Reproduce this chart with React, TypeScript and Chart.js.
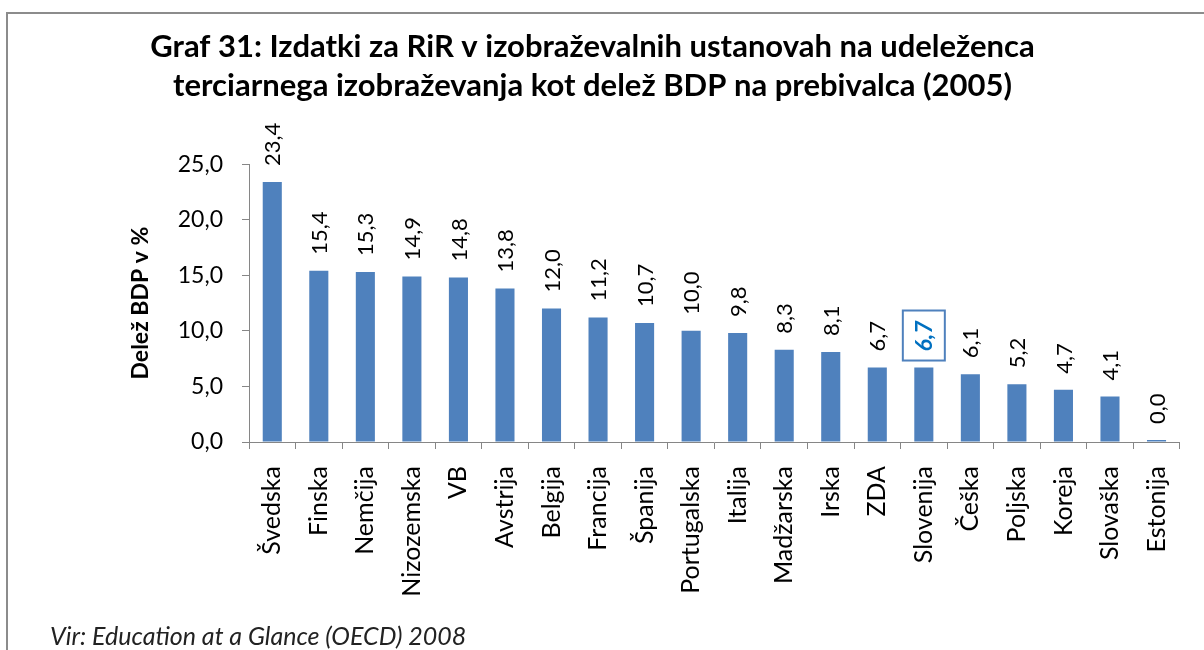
import React, { useEffect, useRef } from "react";
import { Chart, registerables } from "chart.js";

Chart.register(...registerables);

const categories = [
  "Švedska", "Finska", "Nemčija", "Nizozemska", "VB", "Avstrija", "Belgija",
  "Francija", "Španija", "Portugalska", "Italija", "Madžarska", "Irska", "ZDA",
  "Slovenija", "Češka", "Poljska", "Koreja", "Slovaška", "Estonija",
];
const values = [
  23.4, 15.4, 15.3, 14.9, 14.8, 13.8, 12.0, 11.2, 10.7, 10.0, 9.8, 8.3, 8.1,
  6.7, 6.7, 6.1, 5.2, 4.7, 4.1, 0.0,
];
const highlighted = "Slovenija";
const yTicks = [0, 5, 10, 15, 20, 25];
const titleLines = [
  "Graf 31: Izdatki za RiR v izobraževalnih ustanovah na udeleženca",
  "terciarnega izobraževanja kot delež BDP na prebivalca (2005)",
];
const yAxisTitle = "Delež BDP v %";
const sourceText = "Vir: Education at a Glance (OECD) 2008";

const FONT = "Lato, 'Open Sans', sans-serif";
const fmt = (v: number) => v.toFixed(1).replace(".", ",");

const labelPlugin = {
  id: "barLabels",
  afterDatasetsDraw(chart: any) {
    const ctx = chart.ctx;
    const meta = chart.getDatasetMeta(0);
    meta.data.forEach((bar: any, i: number) => {
      const v = values[i];
      const text = fmt(v);
      const isHl = categories[i] === highlighted;
      const x = bar.x;
      const top = Math.min(bar.y, bar.base);
      const gap = 16;
      ctx.save();
      ctx.translate(x, top - gap);
      ctx.rotate(-Math.PI / 2);
      ctx.font = isHl ? `italic bold 23px ${FONT}` : `22px ${FONT}`;
      ctx.fillStyle = isHl ? "#0070C0" : "#000000";
      ctx.textAlign = "left";
      ctx.textBaseline = "middle";
      ctx.fillText(text, 0, 1);
      if (isHl) {
        const w = ctx.measureText(text).width;
        ctx.strokeStyle = "#4F81BD";
        ctx.lineWidth = 2;
        ctx.strokeRect(-9, -21, w + 19, 42);
      }
      ctx.restore();
    });
  },
};

export default function App() {
  const ref = useRef<HTMLCanvasElement | null>(null);
  useEffect(() => {
    if (!ref.current) return;
    const chart = new Chart(ref.current, {
      type: "bar",
      data: {
        labels: categories,
        datasets: [
          {
            data: values,
            backgroundColor: "#4F81BD",
            borderWidth: 0,
            barPercentage: 0.41,
            categoryPercentage: 1,
            minBarLength: 2,
          },
        ],
      },
      options: {
        responsive: false,
        animation: false,
        layout: { padding: { left: 0, right: 19, top: 0, bottom: 0 } },
        plugins: {
          legend: { display: false },
          tooltip: { enabled: false },
          title: {
            display: true,
            text: titleLines,
            color: "#000000",
            font: { family: FONT, size: 31, weight: "bold", lineHeight: 1.26 },
            padding: { top: 27, bottom: 59 },
          },
        },
        scales: {
          x: {
            afterFit: (s: any) => {
              s.height = 208;
            },
            grid: {
              display: true,
              drawOnChartArea: false,
              drawTicks: true,
              tickLength: 7,
              color: "#868686",
              offset: true,
            },
            border: { display: true, color: "#868686", width: 1 },
            ticks: {
              minRotation: 90,
              maxRotation: 90,
              autoSkip: false,
              padding: 17,
              color: "#000000",
              font: { family: FONT, size: 25 },
            },
          },
          y: {
            min: 0,
            max: 25,
            afterFit: (s: any) => {
              s.width = 249;
            },
            afterBuildTicks: (s: any) => {
              s.ticks = yTicks.map((v) => ({ value: v }));
            },
            grid: {
              display: true,
              drawOnChartArea: false,
              drawTicks: true,
              tickLength: 7,
              color: "#868686",
            },
            border: { display: true, color: "#868686", width: 1 },
            ticks: {
              padding: 19,
              color: "#000000",
              font: { family: FONT, size: 23 },
              callback: (v: any) => fmt(Number(v)),
            },
            title: {
              display: true,
              text: yAxisTitle,
              color: "#000000",
              font: { family: FONT, size: 23, weight: "bold", lineHeight: 1.2 },
              padding: { top: 127, bottom: 0 },
            },
          },
        },
      },
      plugins: [labelPlugin],
    });
    return () => chart.destroy();
  }, []);

  return (
    <div
      style={{
        position: "fixed",
        left: 0,
        top: 0,
        width: 1204,
        height: 650,
        overflow: "hidden",
        background: "#ffffff",
      }}
    >
      <div
        style={{
          position: "absolute",
          left: 6,
          top: 12,
          width: 1220,
          height: 660,
          border: "2px solid #8c8c8c",
          boxSizing: "border-box",
        }}
      />
      <canvas
        ref={ref}
        width={1204}
        height={650}
        style={{ position: "absolute", left: 0, top: 0, width: 1204, height: 650 }}
      />
      <div
        style={{
          position: "absolute",
          left: 50,
          top: 619,
          fontFamily: FONT,
          fontStyle: "italic",
          fontSize: 25,
          lineHeight: "32px",
          color: "#222222",
          whiteSpace: "nowrap",
        }}
      >
        {sourceText}
      </div>
    </div>
  );
}
